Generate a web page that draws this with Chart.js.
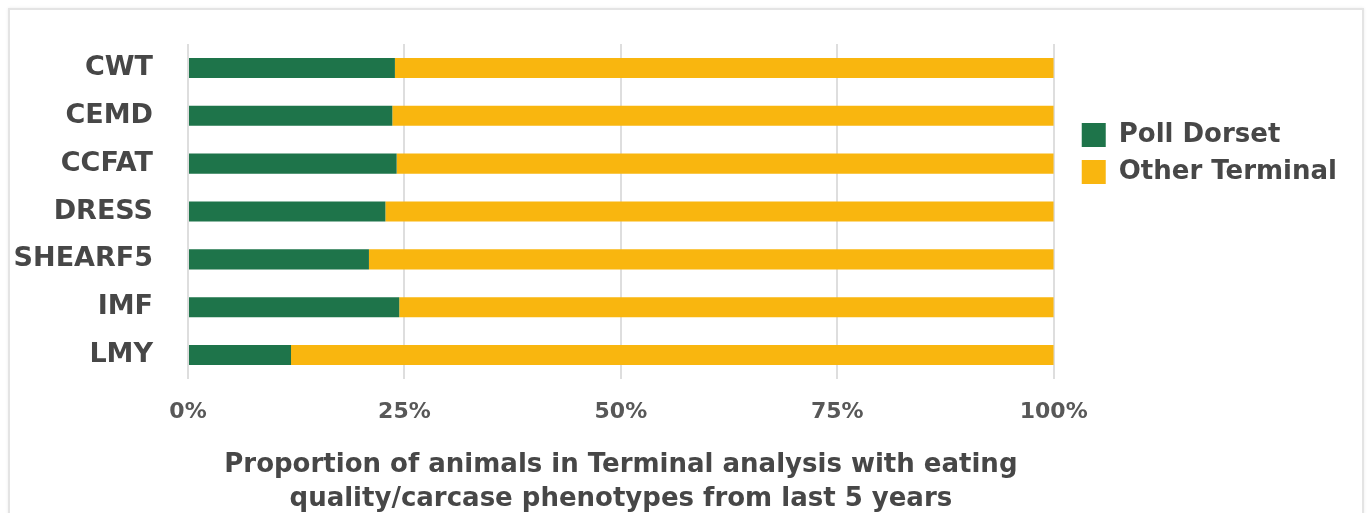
<!DOCTYPE html>
<html lang="en">
<head>
  <meta charset="UTF-8">
  <title>Terminal analysis phenotypes</title>
  <script src="https://cdn.jsdelivr.net/npm/chart.js"></script>
  <style>
    body { margin: 0; background: #fff; overflow: hidden; }
    #frame {
      position: absolute; left: 8px; top: 8px; width: 1352px; height: 600px;
      border: 2px solid #e4e4e4; box-shadow: 0 0 3px rgba(0,0,0,0.08);
    }
    #chart { position: absolute; left: 0; top: 0; }
  </style>
</head>
<body>
  <div id="frame"></div>
  <canvas id="chart" width="1371" height="513"></canvas>

  <script>
    // values (percent of animals)
    var categories = ['CWT', 'CEMD', 'CCFAT', 'DRESS', 'SHEARF5', 'IMF', 'LMY'];
    var pollDorset = [23.9, 23.6, 24.1, 22.8, 20.9, 24.4, 11.9];
    var otherTerminal = [76.1, 76.4, 75.9, 77.2, 79.1, 75.6, 88.1];
    var xTicks = [0, 25, 50, 75, 100];
    var axisTitle = ['Proportion of animals in Terminal analysis with eating', 'quality/carcase phenotypes from last 5 years'];

    var fontName = "'DejaVu Sans', sans-serif";

    // push the legend a bit right and down, like in the original
    var legendNudge = {
      id: 'legendNudge',
      afterLayout: function (chart) {
        var lg = chart.legend;
        lg.left += 17; lg.right += 17;
        lg.top += 67; lg.bottom += 67;
      }
    };

    var ctx = document.getElementById('chart').getContext('2d');
    var chart = new Chart(ctx, {
      type: 'bar',
      data: {
        labels: categories,
        datasets: [{
          label: 'Poll Dorset',
          data: pollDorset,
          backgroundColor: '#1e744a',
          borderWidth: 0
        }, {
          label: 'Other Terminal',
          data: otherTerminal,
          backgroundColor: '#f9b60f',
          borderWidth: 0
        }]
      },
      options: {
        indexAxis: 'y',
        responsive: false,
        animation: false,
        layout: { padding: { top: 44, right: 41, bottom: 0, left: 0 } },
        datasets: { bar: { barPercentage: 0.42, categoryPercentage: 1 } },
        scales: {
          x: {
            stacked: true,
            min: 0,
            max: 100,
            afterBuildTicks: function (scale) {
              scale.ticks = xTicks.map(function (v) { return { value: v }; });
            },
            afterFit: function (scale) { scale.height = 134; },
            grid: { color: '#dedede', lineWidth: 2, drawTicks: false },
            border: { display: false },
            ticks: {
              padding: 20,
              color: '#585858',
              font: { family: fontName, size: 22, weight: 'bold' },
              callback: function (v) { return v + '%'; }
            },
            title: {
              display: true,
              text: axisTitle,
              color: '#474747',
              padding: { top: 0, bottom: -3 },
              font: { family: fontName, size: 26, weight: 'bold', lineHeight: '34px' }
            }
          },
          y: {
            stacked: true,
            afterFit: function (scale) {
              scale.width = 188;
              // labels sit between the grid ends, no overhang needed
              scale.paddingTop = 0;
              scale.paddingBottom = 0;
            },
            grid: { display: false, drawTicks: false },
            border: { display: false },
            ticks: {
              padding: 35,
              color: '#474747',
              font: { family: fontName, size: 27, weight: 'bold' }
            }
          }
        },
        plugins: {
          legend: {
            position: 'right',
            align: 'start',
            labels: {
              boxWidth: 24,
              boxHeight: 24,
              padding: 11,
              color: '#474747',
              font: { family: fontName, size: 26, weight: 'bold' }
            }
          },
          tooltip: { enabled: false }
        }
      },
      plugins: [legendNudge]
    });
  </script>
</body>
</html>
